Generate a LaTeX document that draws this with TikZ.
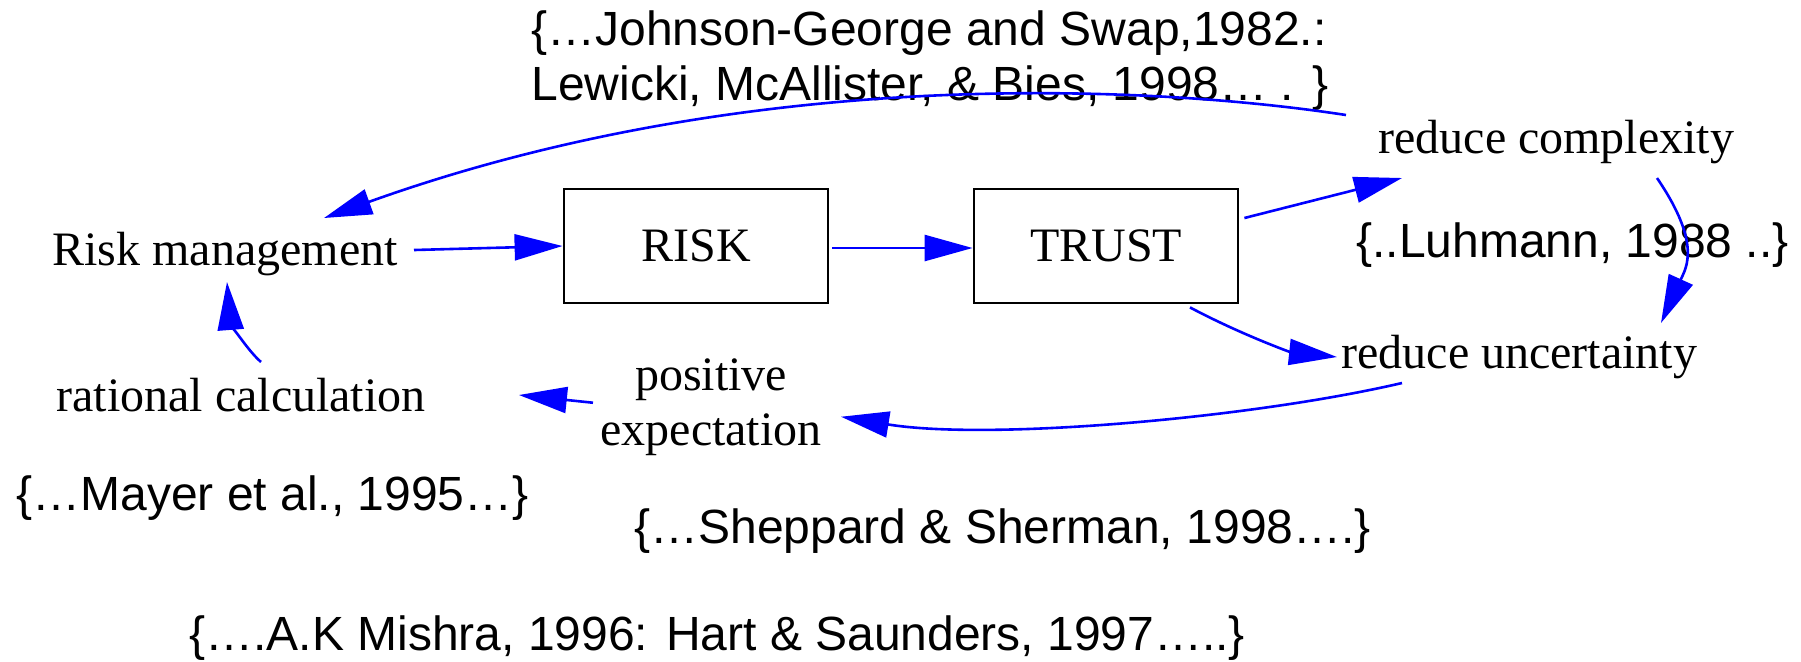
\documentclass[tikz,border=0pt]{standalone}
\usepackage{fontspec}
\setmainfont{Liberation Serif}
\newfontfamily\citefont{Liberation Sans}
\usetikzlibrary{arrows.meta}
\definecolor{linkblue}{RGB}{0,0,255}
\begin{document}
\begin{tikzpicture}[x=0.5pt,y=-0.5pt,
  lbl/.style={font=\fontsize{24}{27.5}\selectfont, inner sep=0pt, anchor=base west},
  cite/.style={font=\citefont\fontsize{24}{27.5}\selectfont, inner sep=0pt, anchor=base west},
  box/.style={draw=black, line width=1.4pt, minimum width=132pt, minimum height=57pt,
              font=\fontsize{24}{27.5}\selectfont, inner sep=0pt},
  link/.style={draw=linkblue, line width=1.3pt, -{Triangle[length=24pt,width=13pt]}}
]
\useasboundingbox (0,0) rectangle (1801,661);

% central chain
\node[box] (risk)  at (696,246)  {RISK};
\node[box] (trust) at (1106,246) {TRUST};

% concept labels
\node[lbl] (rm)   at (52,265)   {Risk management};
\node[lbl] (rcx)  at (1378,153) {reduce complexity};
\node[lbl] (run)  at (1341,368) {reduce uncertainty};
\node[lbl] (ratc) at (56,411)   {rational calculation};
\node[font=\fontsize{24}{27.5}\selectfont, inner sep=0pt, align=center, anchor=base]
  (pos) at (711,445) {positive\\expectation};

% citations (multi-line nodes sit on their last baseline)
\node[cite, align=left] (jg) at (531,100)
  {\{…Johnson-George and Swap,1982.:\\Lewicki, McAllister, \& Bies, 1998… . \}};
\node[cite] (luh)    at (1356,257) {\{..Luhmann, 1988 ..\}};
\node[cite] (mayer)  at (16,510)   {\{…Mayer et al., 1995…\}};
\node[cite] (shep)   at (634,543)  {\{…Sheppard \& Sherman, 1998….\}};
\node[cite] (mishra) at (189,650)  {\{….A.K Mishra, 1996: Hart \& Saunders, 1997…..\}};

% connectors
\draw[link] ([shift={(362,-15)}]rm.base west) -- (risk.west);
\draw[link] ([shift={(3,2)}]risk.east) -- ([shift={(0,2)}]trust.west);
\draw[link] ([shift={(5,-28)}]trust.east) -- ([shift={(24,25)}]rcx.base west);
\draw[link] ([shift={(279,25)}]rcx.base west)
  .. controls (1702,244) and (1686,268) .. ([shift={(320,-45)}]run.base west);
\draw[link] ([shift={(84,3)}]trust.south)
  .. controls (1240,334) and (1290,352) .. ([shift={(-4,-11)}]run.base west);
\draw[link] ([shift={(61,15)}]run.base west)
  .. controls (1252,418) and (989,441) .. ([shift={(19,10)}]pos.east);
\draw[link] ([shift={(-7,-4)}]pos.west) -- ([shift={(93,-16)}]ratc.base east);
\draw[link] ([shift={(205,-49)}]ratc.base west)
  .. controls (245,348) and (230,320) .. ([shift={(175,17)}]rm.base west);
\draw[link] ([shift={(-32,-38)}]rcx.base west)
  .. controls (1150,85) and (750,65) .. ([shift={(272,-47)}]rm.base west);
\end{tikzpicture}
\end{document}
